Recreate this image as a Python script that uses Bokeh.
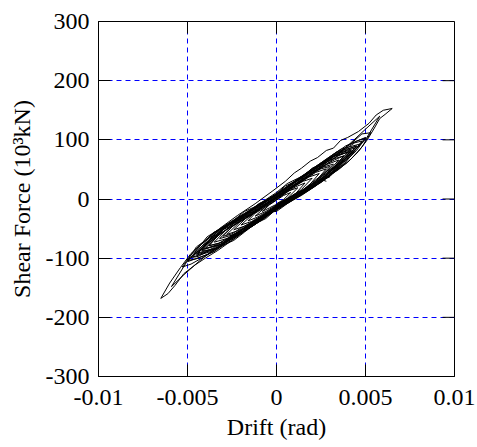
import math
from bokeh.plotting import figure
from bokeh.models import Range1d, FixedTicker, CustomJSTickFormatter
from bokeh.embed import file_html
from bokeh.resources import INLINE

x_ticks = [-0.01, -0.005, 0, 0.005, 0.01]
y_ticks = [-300, -200, -100, 0, 100, 200, 300]

# small cycles
drift_small = [0, 0.0004, 0.0008, 0.0004, 0, -0.0004, -0.0008, -0.0004,
               0, 0.0006, 0.0012, 0.0007, 0.0001, -0.0006, -0.0012, -0.0006,
               0, 0.0005, 0.0011, 0.0016, 0.0011, 0.0005, -0.0001, -0.0007, -0.0012, -0.0016, -0.0011, -0.0005,
               0.0001, 0.0007, 0.0014, 0.0020, 0.0015, 0.0008, 0.0002, -0.0005, -0.0013, -0.0020, -0.0014, -0.0007]
force_small = [-8, -1, 11, 6, -2, -10, -21, -15,
               -9, 1, 19, 14, 1, -13, -29, -21,
               -10, -1, 10, 27, 21, 10, -3, -15, -24, -37, -31, -21,
               -9, 1, 16, 35, 30, 18, 5, -9, -25, -44, -38, -26]

# medium cycles
drift_medium = [0, 0.0006, 0.0012, 0.0018, 0.0024, 0.0018, 0.0011, 0.0004, -0.0003, -0.0010, -0.0017, -0.0024, -0.0018, -0.0011, -0.0005,
                0.0001, 0.0008, 0.0015, 0.0022, 0.0028, 0.0022, 0.0015, 0.0008, 0.0001, -0.0006, -0.0014, -0.0021, -0.0028, -0.0022, -0.0014, -0.0007,
                0, 0.0008, 0.0016, 0.0024, 0.0032, 0.0025, 0.0017, 0.0009, 0.0001, -0.0007, -0.0015, -0.0023, -0.0032, -0.0025, -0.0016, -0.0008,
                0, 0.0009, 0.0018, 0.0027, 0.0035, 0.0028, 0.0019, 0.0010, 0.0001, -0.0008, -0.0017, -0.0026, -0.0035, -0.0027, -0.0018, -0.0009]
force_medium = [-11, -1, 8, 22, 43, 37, 24, 10, -3, -17, -32, -52, -46, -35, -23,
                -10, 3, 14, 30, 51, 45, 31, 17, 3, -11, -25, -40, -60, -54, -42, -28,
                -12, 2, 17, 33, 59, 53, 38, 22, 5, -10, -25, -41, -67, -61, -46, -32,
                -13, 3, 19, 39, 66, 58, 42, 24, 6, -11, -27, -45, -73, -66, -50, -34]

# large cycles
drift_large = [0, 0.0009, 0.0019, 0.0029, 0.0038, 0.0030, 0.0020, 0.0010, 0, -0.0010, -0.0020, -0.0029, -0.0038, -0.0029, -0.0019, -0.0009,
               0, 0.0010, 0.0020, 0.0031, 0.0041, 0.0032, 0.0021, 0.0011, 0, -0.0010, -0.0021, -0.0031, -0.0041, -0.0031, -0.0020, -0.0010,
               0.0001, 0.0011, 0.0022, 0.0033, 0.0044, 0.0034, 0.0023, 0.0012, 0.0001, -0.0010, -0.0022, -0.0033, -0.0044, -0.0033, -0.0022, -0.0011,
               0, 0.0010, 0.0020, 0.0030, 0.0040, 0.0030, 0.0020, 0.0010, 0, -0.0010, -0.0020, -0.0030, -0.0040, -0.0030, -0.0020, -0.0010,
               0, 0.0012, 0.0024, 0.0036, 0.0047, 0.0036, 0.0024, 0.0012, 0, -0.0012, -0.0024, -0.0036, -0.0047, -0.0036, -0.0024, -0.0012,
               0, 0.0013, 0.0026, 0.0038, 0.0050, 0.0039, 0.0026, 0.0013, 0, -0.0013, -0.0026, -0.0039, -0.0050, -0.0039, -0.0026, -0.0013,
               0, 0.0011, 0.0023, 0.0034, 0.0045, 0.0034, 0.0023, 0.0011, 0, -0.0011, -0.0023, -0.0034, -0.0045, -0.0034, -0.0023, -0.0011]
force_large = [-14, 1, 20, 42, 73, 66, 47, 27, 7, -12, -31, -49, -79, -72, -55, -36,
               -13, 3, 22, 46, 80, 72, 50, 29, 7, -12, -32, -52, -85, -77, -57, -37,
               -14, 4, 24, 49, 86, 78, 55, 32, 9, -11, -33, -54, -91, -82, -61, -40,
               -12, 4, 23, 45, 79, 70, 48, 27, 6, -13, -32, -51, -84, -75, -56, -36,
               -15, 4, 27, 55, 93, 84, 59, 34, 8, -14, -36, -59, -98, -88, -65, -43,
               -16, 5, 30, 59, 104, 90, 62, 36, 9, -15, -39, -64, -106, -94, -69, -45,
               -14, 3, 26, 51, 89, 80, 57, 31, 8, -13, -35, -56, -95, -84, -63, -41]

# dense, wiggly cycles in the middle of the band
drift_dense = [0, 0.0005, 0.001, 0.0015, 0.002, 0.0025, 0.003, 0.0035, 0.004, 0.0045, 0.004, 0.0035, 0.003, 0.0025, 0.002, 0.0015, 0.001, 0.0005,
               0, -0.0005, -0.001, -0.0015, -0.002, -0.0025, -0.003, -0.0035, -0.004, -0.0045, -0.004, -0.0035, -0.003, -0.0025, -0.002, -0.0015, -0.001, -0.0005,
               0.00025, 0.00075, 0.00125, 0.00175, 0.00225, 0.00275, 0.00325, 0.0038, 0.00325, 0.00275, 0.00225, 0.00175, 0.00125, 0.00075, 0.00025,
               -0.00025, -0.00075, -0.00125, -0.00175, -0.00225, -0.00275, -0.00325, -0.0038, -0.00325, -0.00275, -0.00225, -0.00175, -0.00125, -0.00075, -0.00025,
               0, 0.0005, 0.001, 0.0015, 0.002, 0.0025, 0.003, 0.0035, 0.004, 0.0045, 0.005, 0.0045, 0.004, 0.0035, 0.003, 0.0025, 0.002, 0.0015, 0.001, 0.0005,
               0, -0.0005, -0.001, -0.0015, -0.002, -0.0025, -0.003, -0.0035, -0.004, -0.0045, -0.005, -0.0045, -0.004, -0.0035, -0.003, -0.0025, -0.002, -0.0015, -0.001, -0.0005,
               0, 0.0005, 0.001, 0.0015, 0.002, 0.0025, 0.003, 0.0025, 0.002, 0.0015, 0.001, 0.0005,
               0, -0.0005, -0.001, -0.0015, -0.002, -0.0025, -0.003, -0.0025, -0.002, -0.0015, -0.001, -0.0005,
               0, 0.0006, 0.0012, 0.0018, 0.0024, 0.003, 0.0036, 0.0042, 0.0036, 0.003, 0.0024, 0.0018, 0.0012, 0.0006,
               0, -0.0006, -0.0012, -0.0018, -0.0024, -0.003, -0.0036, -0.0042, -0.0036, -0.003, -0.0024, -0.0018, -0.0012, -0.0006,
               0.0003, 0.0009, 0.0015, 0.0021, 0.0027, 0.0033, 0.0039, 0.0044, 0.0048, 0.0044, 0.0039, 0.0033, 0.0027, 0.0021, 0.0015, 0.0009, 0.0003,
               -0.0003, -0.0009, -0.0015, -0.0021, -0.0027, -0.0033, -0.0039, -0.0044, -0.0048, -0.0044, -0.0039, -0.0033, -0.0027, -0.0021, -0.0015, -0.0009, -0.0003]
force_dense = [-17, -8, 4, 14, 25, 31, 46, 57, 72, 90, 84, 74, 65, 58, 47, 39, 28, 16,
               7, -3, -14, -20, -33, -44, -52, -63, -76, -93, -89, -82, -74, -61, -56, -45, -37, -26,
               -9, 2, 10, 20, 31, 45, 55, 73, 66, 58, 50, 41, 30, 18, 9,
               -2, -11, -24, -30, -37, -50, -61, -79, -75, -67, -59, -48, -38, -29, -19,
               -19, -9, 1, 14, 21, 28, 42, 57, 67, 82, 103, 98, 90, 76, 69, 59, 52, 39, 29, 22,
               9, -1, -8, -20, -33, -39, -49, -56, -70, -81, -104, -101, -95, -89, -77, -64, -58, -48, -39, -29,
               -12, -2, 8, 16, 28, 39, 55, 51, 44, 32, 22, 14,
               2, -8, -18, -29, -37, -47, -63, -59, -49, -41, -32, -22,
               -21, -8, 4, 18, 28, 38, 57, 83, 78, 69, 58, 44, 35, 26,
               11, -1, -13, -21, -36, -52, -64, -87, -86, -78, -70, -56, -42, -33,
               -9, 3, 15, 24, 39, 55, 68, 82, 98, 95, 85, 74, 59, 47, 32, 23, 11,
               -1, -16, -24, -36, -44, -60, -73, -85, -99, -97, -89, -82, -67, -56, -41, -33, -21]

# peak cycles
drift_peak = [0, 0.0007, 0.0014, 0.0021, 0.0028, 0.0035, 0.0042, 0.0048, 0.0053, 0.0048, 0.0042, 0.0035, 0.0028, 0.0021, 0.0014, 0.0007,
              0, -0.0007, -0.0014, -0.0021, -0.0028, -0.0035, -0.0042, -0.0048, -0.0053, -0.0048, -0.0042, -0.0035, -0.0028, -0.0021, -0.0014, -0.0007,
              0, 0.0008, 0.0016, 0.0024, 0.0032, 0.0040, 0.0046, 0.0051, 0.0055, 0.0058, 0.0061, 0.0065,
              0.0060, 0.0056, 0.0052, 0.0046, 0.0040, 0.0036, 0.0032, 0.0028, 0.0023, 0.0019, 0.0014, 0.0010, 0.0005,
              -0.0002, -0.0012, -0.0022, -0.0032, -0.0040, -0.0048, -0.0054, -0.0060, -0.0065,
              -0.0061, -0.0057, -0.0052, -0.0046, -0.0040, -0.0033, -0.0025, -0.0017, -0.0009, 0,
              0, 0.0010, 0.0020, 0.0030, 0.0040, 0.0050, 0.0058, 0.0050, 0.0040, 0.0030, 0.0020, 0.0010, 0,
              -0.0010, -0.0020, -0.0030, -0.0040, -0.0050, -0.0059, -0.0052, -0.0043, -0.0033, -0.0023, -0.0013, -0.0003,
              0.0006, 0.0016, 0.0026, 0.0035, 0.0042, 0.0034, 0.0024, 0.0014, 0.0004,
              -0.0006, -0.0016, -0.0026, -0.0036, -0.0042, -0.0034, -0.0024, -0.0014, -0.0004,
              0.0005, 0.0014, 0.0022, 0.0030, 0.0024, 0.0030, 0.0025, 0.0028]
force_peak = [-18, -6, 6, 20, 36, 50, 68, 88, 112, 110, 94, 79, 64, 50, 35, 22,
              8, -5, -19, -33, -46, -60, -76, -94, -115, -110, -100, -88, -75, -61, -46, -32,
              -14, -2, 12, 28, 44, 62, 80, 100, 120, 136, 143, 153,
              150, 142, 128, 114, 104, 99, 86, 82, 70, 64, 52, 44, 30,
              14, -8, -28, -50, -70, -92, -116, -142, -168,
              -160, -146, -126, -112, -100, -87, -70, -52, -36, -18,
              -12, 6, 26, 48, 72, 100, 140, 118, 90, 66, 44, 24, 4,
              -16, -36, -56, -78, -104, -148, -128, -104, -80, -60, -40, -20,
              -6, 13, 35, 59, 82, 72, 50, 30, 10,
              -11, -30, -48, -66, -86, -78, -60, -41, -22,
              -9, 7, 22, 40, 30, 38, 33, 30]

drift = drift_small + drift_medium + drift_large + drift_dense + drift_peak
force = force_small + force_medium + force_large + force_dense + force_peak

FONT = "Liberation Serif"

p = figure(width=477, height=447, x_range=Range1d(x_ticks[0], x_ticks[-1]),
           y_range=Range1d(y_ticks[0], y_ticks[-1]),
           output_backend="svg", toolbar_location=None,
           min_border_left=98, min_border_right=23, min_border_top=21, min_border_bottom=71)
p.background_fill_color = "white"
p.border_fill_color = "white"
p.outline_line_color = "black"
p.outline_line_width = 1

fmt = CustomJSTickFormatter(code="return tick.toString();")

for ax, ticks in ((p.xaxis[0], x_ticks), (p.yaxis[0], y_ticks)):
    ax.ticker = FixedTicker(ticks=ticks)
    ax.formatter = fmt
    ax.major_tick_in = 12
    ax.major_tick_out = 0
    ax.minor_tick_in = 0
    ax.minor_tick_out = 0
    ax.major_tick_line_color = "black"
    ax.axis_line_color = "black"
    ax.major_label_text_font = FONT
    ax.major_label_text_font_size = "24px"
    ax.major_label_text_color = "black"
    ax.axis_label_text_font = FONT
    ax.axis_label_text_font_size = "24px"
    ax.axis_label_text_font_style = "normal"
    ax.axis_label_text_color = "black"

p.xaxis.axis_label = "Drift (rad)"
p.yaxis.axis_label = "Shear Force (10³kN)"
p.xaxis.major_label_standoff = 13
p.xaxis.axis_label_standoff = 6
p.yaxis.major_label_standoff = 9
p.yaxis.axis_label_standoff = 8

for g, ticks in ((p.xgrid[0], x_ticks), (p.ygrid[0], y_ticks)):
    g.ticker = FixedTicker(ticks=ticks)
    g.grid_line_color = "#0000ff"
    g.grid_line_dash = "5 4"
    g.grid_line_width = 1

p.line(drift, force, line_color="black", line_width=1)

# inward ticks on the top and right edges of the box
p.ray(x=x_ticks, y=y_ticks[-1], length=12, length_units="screen", angle=-math.pi / 2,
      line_color="black", line_width=1)
p.ray(x=x_ticks[-1], y=y_ticks, length=12, length_units="screen", angle=math.pi,
      line_color="black", line_width=1)

open("out.html", "w").write(file_html(p, INLINE))
